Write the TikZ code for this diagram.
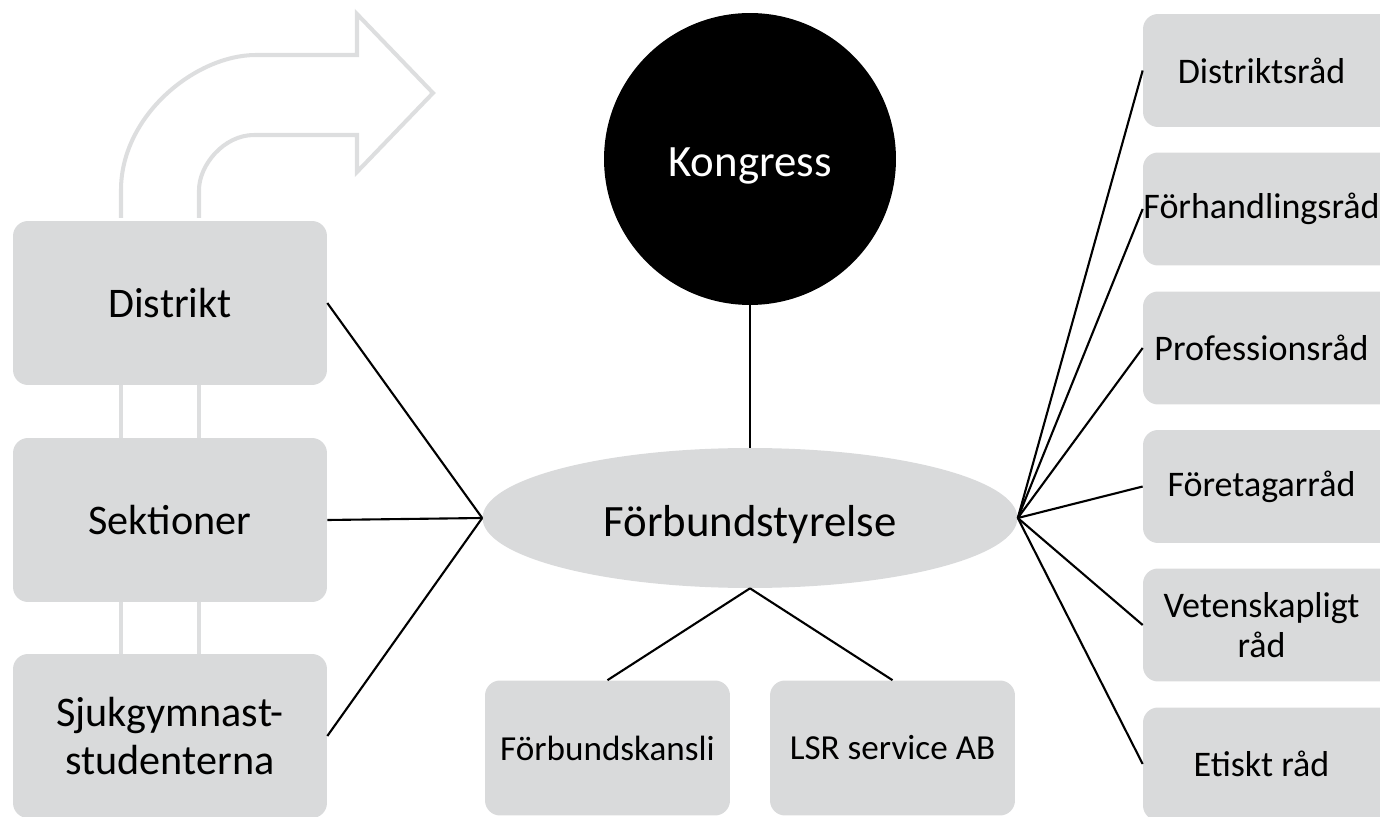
\documentclass[tikz,border=0pt]{standalone}
\usepackage{fontspec}
\setmainfont{Carlito}
\usetikzlibrary{shapes.geometric}
\definecolor{boxgrey}{RGB}{217,218,219}
\definecolor{arrowgrey}{RGB}{221,222,223}
\tikzset{
  box/.style = {fill=boxgrey, rounded corners=0.3cm, align=center, inner sep=0pt},
  lbox/.style = {box, minimum width=6.28cm, minimum height=3.28cm, font=\fontsize{24}{27}\selectfont},
  bbox/.style = {box, minimum width=4.9cm, minimum height=2.7cm, font=\fontsize{20}{23}\selectfont},
  % right boxes run off the page, text centred on the visible part
  rbox/.style = {fill=boxgrey, rounded corners=0.3cm, inner sep=0pt,
    minimum width=5.14cm, minimum height=2.26cm, font=\fontsize{20.5}{23}\selectfont,
    execute at begin node={\begin{minipage}{4.74cm}\centering},
    execute at end node={\end{minipage}\hspace*{0.4cm}}},
  link/.style = {line width=1.2pt, black},
  glink/.style = {line width=2.8pt, arrowgrey},
}

\begin{document}
\begin{tikzpicture}[x=0.02cm, y=-0.02cm]
\useasboundingbox (0,0) rectangle (1380,817);

% left column
\node[lbox] (dis) at (170,303) {Distrikt};
\node[lbox] (sek) at (170,520) {Sektioner};
\node[lbox] (sjuk) at (170,736) {Sjukgymnast-\\studenterna};

\coordinate (aL) at (121,218);
\coordinate (aR) at (199,218);
\draw[glink] (aL |- dis.south) -- (aL |- sek.north);
\draw[glink] (aR |- dis.south) -- (aR |- sek.north);
\draw[glink] (aL |- sek.south) -- (aL |- sjuk.north);
\draw[glink] (aR |- sek.south) -- (aR |- sjuk.north);

% bent arrow
\draw[arrowgrey, line width=2.3pt, line join=miter]
  (aL) -- (121,190) .. controls (121,115.4) and (195.6,55) .. (256,55)
  -- (357,55) -- (357,14) -- (433,93) -- (357,172) -- (357,135)
  -- (254,135) .. controls (223.6,135) and (199,165.4) .. (199,190) -- (aR);

% centre
\node[circle, fill=black, text=white, minimum size=5.84cm, inner sep=0pt,
  font=\fontsize{25.5}{28}\selectfont] (kon) at (750,159)
  {\raisebox{-0.14cm}[\height][\depth]{Kongress}};
\node[ellipse, fill=boxgrey, minimum width=10.7cm, minimum height=2.8cm, inner sep=0pt,
  font=\fontsize{25.5}{28}\selectfont] (fs) at (750,518)
  {\raisebox{-0.14cm}[\height][\depth]{Förbundstyrelse}};
\draw[link] (kon.south) -- (fs.north);

\node[bbox] (fk) at (607.5,748) {Förbundskansli};
\node[bbox] (lsr) at (892.5,748) {LSR service AB};
\draw[link] (fs.south) -- (fk.north);
\draw[link] (fs.south) -- (lsr.north);

\draw[link] (dis.east) -- (fs.west);
\draw[link] (sek.east) -- (fs.west);
\draw[link] (sjuk.east) -- (fs.west);

% right column
\node[rbox] (dr) at (1271.5,70.5) {Distriktsråd};
\node[rbox] (fr) at (1271.5,209) {Förhandlingsråd};
\node[rbox] (pr) at (1271.5,348) {Professionsråd};
\node[rbox] (ftr) at (1271.5,486.5) {Företagarråd};
\node[rbox] (vr) at (1271.5,625) {Vetenskapligt\\råd};
\node[rbox] (er) at (1271.5,764) {Etiskt råd};

\foreach \n in {dr,fr,pr,ftr,vr,er}
  \draw[link] (fs.east) -- (\n.west);

\end{tikzpicture}
\end{document}
